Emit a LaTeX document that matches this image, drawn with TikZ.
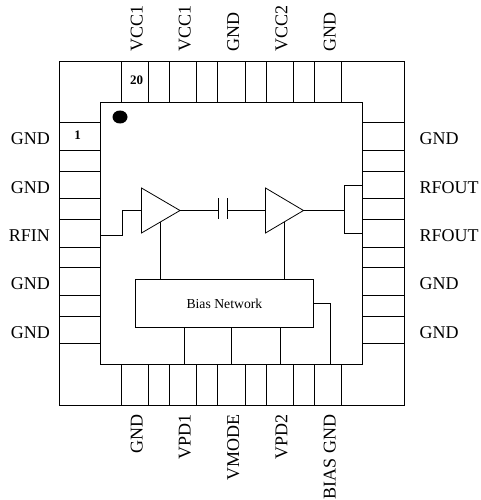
\documentclass[tikz,border=0pt]{standalone}
\usepackage{fontspec}
\setmainfont{Liberation Serif}
\tikzset{
	pad/.style={draw,inner sep=0pt,minimum width=#1},
	pinlabel/.style={inner sep=0pt,font=\fontsize{18}{20}\selectfont},
	padnum/.style={inner sep=0pt,font=\fontsize{13}{15}\selectfont\bfseries},
}
\begin{document}
	\begin{tikzpicture}[x=1pt,y=-1pt,line width=0.8pt]
		\useasboundingbox (0,0) rectangle (480,500);
		\begin{scope}
			\draw (59,61) rectangle (404,405.5);
			\draw[fill=white] (100.5,102.3) rectangle (362.5,364);
			\foreach \i/\y/\t/\u in {1/136.5/GND/GND,2/185/GND/RFOUT,3/233.3/RFIN/RFOUT,4/281.5/GND/GND,5/330/GND/GND}
			{
				\node[pad=41.5pt,minimum height=27.3pt] (lpad\i) at (79.7,\y) {};
				\node[pad=41.5pt,minimum height=27.3pt] (rpad\i) at (383.2,\y) {};
				\node[pinlabel,anchor=east] (llabel\i) at (50.3,\y+2.3) {\t};
				\node[pinlabel,anchor=west] (rlabel\i) at (419.3,\y+2.3) {\u};
			}
			\foreach \i/\x/\t/\u in {1/135/VCC1/GND,2/183/VCC1/VPD1,3/231.5/GND/VMODE,4/279.7/VCC2/VPD2,5/328/GND/BIAS GND}
			{
				\node[pad=27.5pt,minimum height=41.3pt] (tpad\i) at (\x,81.7) {};
				\node[pad=27.5pt,minimum height=41.3pt] (bpad\i) at (\x,384.8) {};
				\node[pinlabel,rotate=90,anchor=west] (tlabel\i) at (\x+1.8,52) {\t};
				\node[pinlabel,rotate=90,anchor=east] (blabel\i) at (\x+1.8,414.5) {\u};
			}
			\node[padnum] (num1) at (77.5,135.5) {1};
			\node[padnum] (num20) at (136.5,80.5) {20};
			\fill (120,117) ellipse (7.5pt and 6.5pt);
			\draw (141.5,188) -- (180,210.5) -- (141.5,233) -- cycle;
			\draw (265.5,188) -- (303.5,210.5) -- (265.5,233) -- cycle;
			\coordinate (ampAin) at (141.5,210.5);
			\coordinate (ampAout) at (180,210.5);
			\coordinate (ampAstem) at (160.5,222);
			\coordinate (ampBin) at (265.5,210.5);
			\coordinate (ampBout) at (303.5,210.5);
			\coordinate (ampBstem) at (284.7,222);
			\coordinate (capL) at (218.5,210.5);
			\coordinate (capR) at (227.7,210.5);
			\coordinate (rfinpin) at (100.5,235);
			\coordinate (tapA) at (184.5,364);
			\coordinate (tapB) at (231.7,364);
			\coordinate (tapC) at (280.5,364);
			\coordinate (tapD) at (330,364);
			\node[draw,inner sep=0pt,minimum width=178.2pt,minimum height=47.8pt,font=\fontsize{13.7}{15}\selectfont] (bias) at (224.4,303.6) {Bias Network};
			\draw (rfinpin) -- (122.5,235) -- (122.5,210.5) -- (ampAin);
			\draw (ampAout) -- (capL);
			\draw (capR) -- (ampBin);
			\draw (218.5,198) -- (218.5,219);
			\draw (227.7,198) -- (227.7,219);
			\draw (ampBout) -- (344.5,210.5);
			\draw (rpad2.west) -- (344.5,185) -- (344.5,233.3) -- (rpad3.west);
			\draw (ampAstem) -- (ampAstem |- bias.north);
			\draw (ampBstem) -- (ampBstem |- bias.north);
			\draw (tapA |- bias.south) -- (tapA);
			\draw (tapB |- bias.south) -- (tapB);
			\draw (tapC |- bias.south) -- (tapC);
			\draw (bias.east) -- (tapD |- bias.east) -- (tapD);
		\end{scope}
	\end{tikzpicture}
\end{document}
